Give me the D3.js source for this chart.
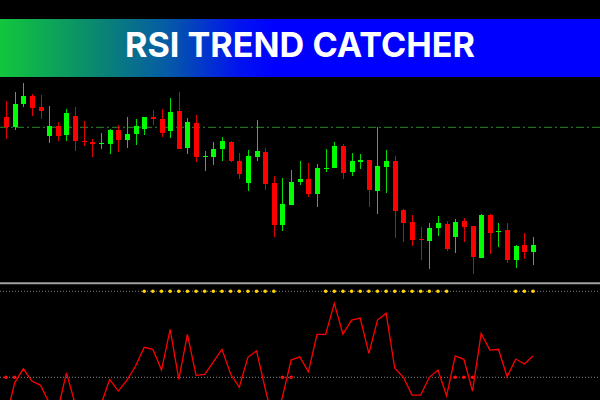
<!DOCTYPE html>
<html>
<head>
<meta charset="utf-8">
<script src="https://cdnjs.cloudflare.com/ajax/libs/d3/7.8.5/d3.min.js"></script>
<style>
    html, body { margin: 0; padding: 0; background: #000; }
    svg { display: block; }
</style>
</head>
<body>
<div id="chart"></div>
<script>
(function() {

    var title = "RSI TREND CATCHER";

    // candle prices
    var opens  = [1.09633, 1.09527, 1.09760, 1.09843, 1.09727, 1.09440, 1.09543, 1.09450, 1.09643, 1.09393,
                  1.09383, 1.09363, 1.09357, 1.09500, 1.09403, 1.09460, 1.09507, 1.09633, 1.09613, 1.09493,
                  1.09690, 1.09323, 1.09570, 1.09233, 1.09227, 1.09310, 1.09383, 1.09190, 1.08973, 1.09227,
                  1.09283, 1.08973, 1.08553, 1.08753, 1.08983, 1.09010, 1.08863, 1.09107, 1.09123, 1.09343,
                  1.09083, 1.09183, 1.09200, 1.08890, 1.09133, 1.09190, 1.08700, 1.08580, 1.08413, 1.08393,
                  1.08523, 1.08563, 1.08430, 1.08590, 1.08543, 1.08220, 1.08650, 1.08483, 1.08497, 1.08200,
                  1.08347, 1.08283];
    var highs  = [1.09790, 1.09880, 1.09967, 1.09860, 1.09850, 1.09740, 1.09577, 1.09710, 1.09727, 1.09593,
                  1.09407, 1.09467, 1.09513, 1.09547, 1.09627, 1.09607, 1.09633, 1.09700, 1.09710, 1.09820,
                  1.09880, 1.09623, 1.09650, 1.09290, 1.09383, 1.09430, 1.09390, 1.09267, 1.09300, 1.09600,
                  1.09320, 1.09040, 1.09020, 1.09100, 1.09190, 1.09167, 1.09160, 1.09310, 1.09380, 1.09357,
                  1.09273, 1.09260, 1.09200, 1.09527, 1.09300, 1.09240, 1.08710, 1.08650, 1.08533, 1.08567,
                  1.08640, 1.08590, 1.08607, 1.08620, 1.08543, 1.08660, 1.08660, 1.08567, 1.08573, 1.08350,
                  1.08473, 1.08427];
    var lows   = [1.09407, 1.09500, 1.09733, 1.09640, 1.09610, 1.09373, 1.09393, 1.09393, 1.09293, 1.09340,
                  1.09227, 1.09310, 1.09260, 1.09283, 1.09323, 1.09350, 1.09450, 1.09550, 1.09433, 1.09423,
                  1.09310, 1.09263, 1.09183, 1.09093, 1.09153, 1.09193, 1.09183, 1.09013, 1.08887, 1.09190,
                  1.08900, 1.08430, 1.08490, 1.08747, 1.08950, 1.08833, 1.08733, 1.09083, 1.09123, 1.09007,
                  1.09040, 1.09107, 1.08733, 1.08660, 1.08873, 1.08423, 1.08383, 1.08340, 1.08200, 1.08110,
                  1.08443, 1.08287, 1.08273, 1.08383, 1.08057, 1.08220, 1.08260, 1.08327, 1.08167, 1.08120,
                  1.08213, 1.08153];
    var closes = [1.09527, 1.09760, 1.09843, 1.09723, 1.09690, 1.09540, 1.09440, 1.09667, 1.09390, 1.09377,
                  1.09363, 1.09373, 1.09500, 1.09400, 1.09460, 1.09537, 1.09633, 1.09607, 1.09467, 1.09680,
                  1.09310, 1.09580, 1.09230, 1.09237, 1.09310, 1.09390, 1.09193, 1.09063, 1.09240, 1.09290,
                  1.08963, 1.08550, 1.08760, 1.08983, 1.09013, 1.08860, 1.09120, 1.09117, 1.09343, 1.09073,
                  1.09190, 1.09200, 1.08900, 1.09140, 1.09190, 1.08687, 1.08567, 1.08403, 1.08403, 1.08520,
                  1.08567, 1.08313, 1.08580, 1.08533, 1.08227, 1.08650, 1.08473, 1.08487, 1.08203, 1.08340,
                  1.08283, 1.08347];

    // horizontal dash-dot level in the price window
    var levelPrice = 1.09527;

    // rsi line
    var rsi = [33.3, 47.8, 53.4, 48.5, 46.8, 39.7, 37.0, 51.8, 39.4, 36.1,
               34.9, 39.1, 49.2, 44.5, 48.9, 54.5, 62.0, 61.2, 52.9, 69.2,
               49.2, 67.2, 50.8, 51.2, 56.2, 61.2, 51.3, 46.0, 58.0, 60.6,
               45.5, 31.7, 42.2, 56.9, 58.2, 52.2, 67.2, 67.2, 79.6, 67.3,
               72.9, 73.7, 59.6, 72.9, 75.6, 53.6, 50.0, 42.9, 42.9, 50.0,
               52.9, 42.6, 58.6, 57.2, 44.5, 67.6, 60.9, 61.2, 50.2, 57.3,
               55.3, 58.5];
    var rsiLevel = 50;

    // bars marked with yellow trend dots and red signal dots
    var trendDots = [16, 17, 18, 19, 20, 21, 22, 23, 24, 25, 26, 27, 28, 29, 30, 31,
                     37, 38, 39, 40, 41, 42, 43, 44, 45, 46, 47, 48, 49, 50, 51,
                     59, 60, 61];
    var signalDots = [0, 1, 32, 33, 52, 53, 54];

    var w = 600, h = 400;
    var up = "#00ff00", down = "#ff0000";

    var candles = opens.map(function(o, i) {
        return { i: i, o: o, h: highs[i], l: lows[i], c: closes[i] };
    });

    var xScale = d3.scaleLinear().domain([0, candles.length - 1]).range([6, 533]);
    var yPrice = d3.scaleLinear().domain([1.08, 1.10]).range([280, 80]);
    var yRsi = d3.scaleLinear().domain([30, 80]).range([427.3, 302.3]);

    var svg = d3.select("#chart").append("svg")
        .attr("width", w)
        .attr("height", h);

    svg.append("rect")
        .attr("width", w)
        .attr("height", h)
        .attr("fill", "#000");

    var defs = svg.append("defs");

    // banner gradient
    var grad = defs.append("linearGradient")
        .attr("id", "bannerGrad")
        .attr("x1", 0).attr("x2", 1).attr("y1", 0).attr("y2", 0);
    [["0", "#12c63d"], ["0.15", "#0a8c6c"], ["0.28", "#055aa6"], ["0.40", "#0012f0"], ["0.46", "#0000ff"], ["1", "#0000ff"]]
        .forEach(function(s) {
            grad.append("stop").attr("offset", s[0]).attr("stop-color", s[1]);
        });

    defs.append("clipPath").attr("id", "pricePanel")
        .append("rect").attr("x", 0).attr("y", 78).attr("width", w).attr("height", 204);
    defs.append("clipPath").attr("id", "rsiPanel")
        .append("rect").attr("x", 0).attr("y", 285).attr("width", w).attr("height", 115);

    // banner
    svg.append("rect")
        .attr("x", 0).attr("y", 19)
        .attr("width", w).attr("height", 58)
        .attr("fill", "url(#bannerGrad)");

    svg.append("text")
        .attr("x", w / 2)
        .attr("y", 57)
        .attr("text-anchor", "middle")
        .attr("fill", "#fff")
        .attr("textLength", 350)
        .attr("lengthAdjust", "spacingAndGlyphs")
        .style("font-family", "Inter, 'Open Sans', sans-serif")
        .style("font-weight", 700)
        .style("font-size", "34px")
        .text(title);

    // price window
    var price = svg.append("g").attr("clip-path", "url(#pricePanel)");

    price.append("line")
        .attr("x1", 0).attr("x2", w)
        .attr("y1", yPrice(levelPrice)).attr("y2", yPrice(levelPrice))
        .attr("stroke", "#2a8a2a")
        .attr("stroke-width", 1)
        .attr("stroke-dasharray", "8,3,2,3");

    var candle = price.selectAll("g.candle")
        .data(candles)
        .enter().append("g")
        .attr("class", "candle")
        .attr("shape-rendering", "crispEdges");

    // wicks on whole pixels so they stay sharp
    candle.append("line")
        .attr("x1", function(d) { return Math.round(xScale(d.i)) + 0.5; })
        .attr("x2", function(d) { return Math.round(xScale(d.i)) + 0.5; })
        .attr("y1", function(d) { return yPrice(d.h); })
        .attr("y2", function(d) { return yPrice(d.l); })
        .attr("stroke", function(d) { return d.c >= d.o ? "#00dd00" : "#e00000"; })
        .attr("stroke-width", 1);

    candle.append("rect")
        .attr("x", function(d) { return Math.round(xScale(d.i)) - 2; })
        .attr("y", function(d) { return yPrice(Math.max(d.o, d.c)); })
        .attr("width", 5)
        .attr("height", function(d) { return Math.max(1, Math.abs(yPrice(d.o) - yPrice(d.c))); })
        .attr("fill", function(d) { return d.c >= d.o ? up : down; });

    // separator
    svg.append("line")
        .attr("x1", 0).attr("x2", w)
        .attr("y1", 283.3).attr("y2", 283.3)
        .attr("stroke", "#a0a0a0")
        .attr("stroke-width", 2);

    // indicator window
    var ind = svg.append("g").attr("clip-path", "url(#rsiPanel)");

    var dotRowY = 291.3;

    ind.append("line")
        .attr("x1", 0).attr("x2", w)
        .attr("y1", dotRowY).attr("y2", dotRowY)
        .attr("stroke", "#808080")
        .attr("stroke-dasharray", "1,2");

    ind.append("line")
        .attr("x1", 0).attr("x2", w)
        .attr("y1", yRsi(rsiLevel)).attr("y2", yRsi(rsiLevel))
        .attr("stroke", "#808080")
        .attr("stroke-dasharray", "1,2");

    ind.selectAll("circle.trend")
        .data(trendDots)
        .enter().append("circle")
        .attr("class", "trend")
        .attr("cx", function(d) { return xScale(d); })
        .attr("cy", dotRowY)
        .attr("r", 1.8)
        .attr("fill", "#ffd400");

    var line = d3.line()
        .x(function(d, i) { return xScale(i); })
        .y(function(d) { return yRsi(d); });

    ind.append("path")
        .datum(rsi)
        .attr("d", line)
        .attr("fill", "none")
        .attr("stroke", "#ff0000")
        .attr("stroke-width", 1.3);

    ind.selectAll("circle.signal")
        .data(signalDots)
        .enter().append("circle")
        .attr("class", "signal")
        .attr("cx", function(d) { return xScale(d); })
        .attr("cy", yRsi(rsiLevel))
        .attr("r", 1.8)
        .attr("fill", "#ff1010");

})();
</script>
</body>
</html>
